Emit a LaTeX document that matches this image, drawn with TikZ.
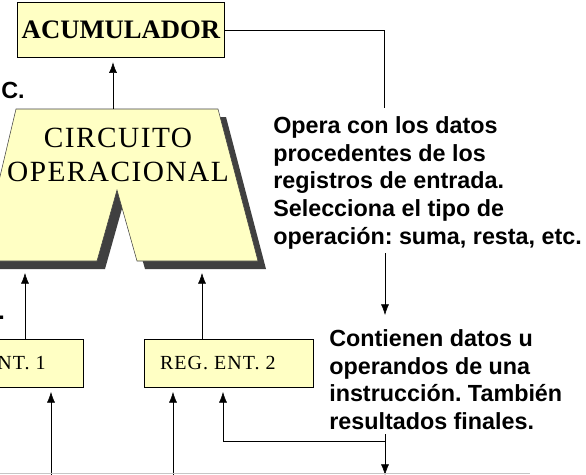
\documentclass[tikz,border=0pt]{standalone}
\usepackage{fontspec}
\setmainfont{Liberation Serif}
\newfontfamily\notefont{Liberation Sans}
\newfontfamily\boxfont[LetterSpace=5]{Liberation Serif}
\usetikzlibrary{positioning,arrows.meta}
\definecolor{boxyellow}{RGB}{255,255,196}
\definecolor{shadowgray}{RGB}{64,64,64}
\frenchspacing

\begin{document}
\begin{tikzpicture}[
x=0.75pt,
y=-0.75pt,
reg/.style={
  draw,
  fill=boxyellow,
  minimum width=126.75pt,
  minimum height=36pt,
  inner sep=0pt,
  font=\boxfont\fontsize{15}{17}\selectfont
  },
note/.style={
  align=left,
  inner sep=0pt,
  anchor=north west,
  font=\notefont\bfseries\fontsize{17.5}{20.9}\selectfont
  },
>={Latex[length=8pt,width=6pt]}
]
\useasboundingbox (0,0) rectangle (586,475);

% registers and accumulator
\node[reg, minimum width=155pt, minimum height=41pt,
  font=\bfseries\fontsize{20}{22}\selectfont] (acum) at (121,30) {ACUMULADOR};
\node[reg] (regA) at (-1.5,363) {REG. ENT. 1\hspace*{16pt}};
\node[reg] (regB) at (228.5,363) {REG. ENT. 2\hspace*{16pt}};

% operational circuit
\fill[shadowgray, shift={(8,8)}] (16,109) -- (218,109) -- (258,261) -- (137,261)
  -- (117,190) -- (97,261) -- (-20,261) -- cycle;
\draw[fill=boxyellow, draw=shadowgray, thin] (16,109) -- (218,109) -- (258,261)
  -- (137,261) -- (117,190) -- (97,261) -- (-20,261) -- cycle;
\node[align=center, inner sep=0pt, font=\boxfont\fontsize{22}{25.5}\selectfont]
  (circ) at (118,155) {CIRCUITO\\OPERACIONAL};
\coordinate (circtop) at (113,109);
\coordinate (legA) at (25,269);
\coordinate (legB) at (202,269);

% notes
\node[note] (txtOpera) at (273,116) {Opera con los datos\\procedentes de los\\
  registros de entrada.\\Selecciona el tipo de\\operación: suma, resta, etc.};
\node[note] (txtCont) at (329,329) {Contienen datos u\\operandos de una\\
  instrucción. También\\resultados finales.};
\node[note, anchor=base west] (cutA) at (1,98) {C.};
\node[note, anchor=base west] (cutB) at (-2,319) {.};

\coordinate (opTop) at (384,108);
\coordinate (opBot) at (385,253);
\coordinate (contTop) at (385,315);
\coordinate (contBot) at (385,434);
\coordinate (fb) at (385,441);
\coordinate (fbB) at (223,441);
\coordinate (outC) at (385,475);
\coordinate (inA) at (51,475);
\coordinate (inB) at (173,475);

% connectors
\draw[->, shorten >=3.5pt] (circtop) -- (circtop |- acum.south);
\draw[->, shorten >=3pt] (legA |- regA.north) -- (legA);
\draw[->, shorten >=3pt] (legB |- regB.north) -- (legB);
\draw[->, shorten >=3.5pt] (inA) -- (inA |- regA.south);
\draw[->, shorten >=3.5pt] (inB) -- (inB |- regB.south);
\draw (acum.east) -| (opTop);
\draw[->] (opBot) -- (contTop);
\draw[->] (contBot) -- (outC);
\draw[->, shorten >=3.5pt] (fb) -- (fbB) -- (fbB |- regB.south);
\draw[gray!45] (0,473) -- (530,473);
\end{tikzpicture}
\end{document}
